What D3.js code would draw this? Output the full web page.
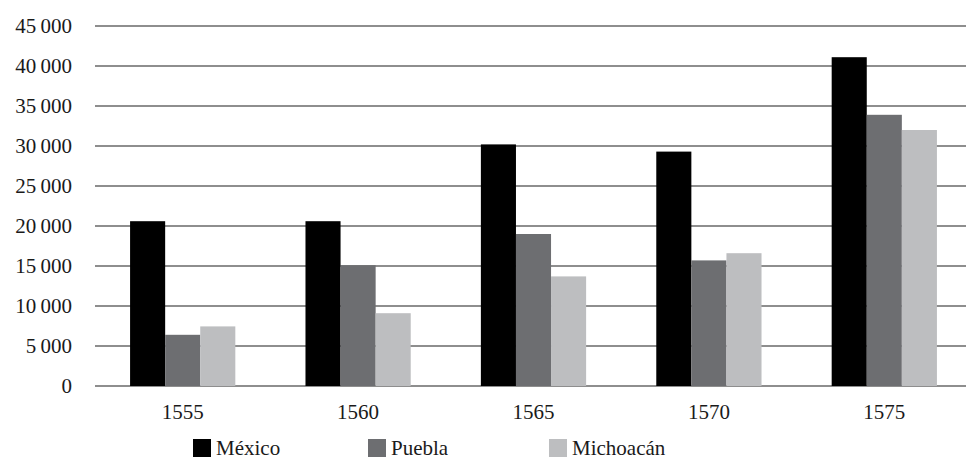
<!DOCTYPE html>
<html>
<head>
<meta charset="utf-8">
<script src="https://cdn.jsdelivr.net/npm/d3@7/dist/d3.min.js"></script>
<style>
  html, body { margin: 0; padding: 0; background: #fff; }
  svg { display: block; }
  text { font-family: "Liberation Serif", "Times New Roman", serif; fill: #1a1a1a; }
</style>
</head>
<body>
<svg id="chart" width="966" height="467"></svg>
<script>
const years = ["1555", "1560", "1565", "1570", "1575"];
const seriesNames = ["México", "Puebla", "Michoacán"];
const mexico    = [20600, 20600, 30200, 29300, 41100];
const puebla    = [6400, 15100, 19000, 15700, 33900];
const michoacan = [7450, 9100, 13700, 16600, 32000];
const yTicks = [0, 5000, 10000, 15000, 20000, 25000, 30000, 35000, 40000, 45000];
const colors = ["#000000", "#6d6e71", "#bdbec0"];

(function () {
const seriesValues = [mexico, puebla, michoacan];
const data = years.map((yr, i) => ({
  year: yr,
  values: seriesNames.map((s, j) => ({ key: s, value: seriesValues[j][i], idx: j }))
}));

const svg = d3.select("#chart");
const mLeft = 95, mRight = 972, mTop = 26, mBottom = 386;

const x = d3.scaleBand().domain(years).range([mLeft, mRight]).paddingInner(0.4).paddingOuter(0.2);
const xs = d3.scaleBand().domain(seriesNames).range([0, x.bandwidth()]).padding(0);
const y = d3.scaleLinear().domain([0, 45000]).range([mBottom, mTop]);

const fmt = v => v === 0 ? "0" : d3.format(",")(v).replace(",", "\u2009");

// gridlines
svg.append("g")
  .selectAll("line")
  .data(yTicks)
  .join("line")
  .attr("x1", mLeft).attr("x2", 966)
  .attr("y1", d => y(d)).attr("y2", d => y(d))
  .attr("stroke", "#8e8e8e")
  .attr("stroke-width", 2);

// y labels
const yAxis = d3.axisLeft(y).tickValues(yTicks).tickFormat(fmt).tickSize(0).tickPadding(0);
const gy = svg.append("g").attr("transform", "translate(72,0)").call(yAxis);
gy.select(".domain").remove();
gy.selectAll("text")
  .attr("font-size", 21)
  .attr("fill", "#1a1a1a")
  .attr("dy", "0.33em");

// bars
const groups = svg.append("g")
  .selectAll("g")
  .data(data)
  .join("g")
  .attr("transform", d => `translate(${x(d.year)},0)`);

groups.selectAll("rect")
  .data(d => d.values)
  .join("rect")
  .attr("x", d => xs(d.key))
  .attr("width", xs.bandwidth())
  .attr("y", d => y(d.value))
  .attr("height", d => y(0) - y(d.value))
  .attr("fill", d => colors[d.idx]);

// x labels
const xAxis = d3.axisBottom(x).tickSize(0).tickPadding(0);
const gx = svg.append("g").attr("transform", `translate(0,${mBottom})`).call(xAxis);
gx.select(".domain").remove();
gx.selectAll("text")
  .attr("font-size", 21)
  .attr("fill", "#1a1a1a")
  .attr("dy", "1.55em");

// legend
const legendX = [193, 368, 549];
const legend = svg.append("g")
  .selectAll("g")
  .data(seriesNames)
  .join("g")
  .attr("transform", (d, i) => `translate(${legendX[i]},439)`);
legend.append("rect")
  .attr("width", 18).attr("height", 18)
  .attr("fill", (d, i) => colors[i]);
legend.append("text")
  .attr("x", 23).attr("y", 16)
  .attr("font-size", 21)
  .text(d => d);
})();
</script>
</body>
</html>
